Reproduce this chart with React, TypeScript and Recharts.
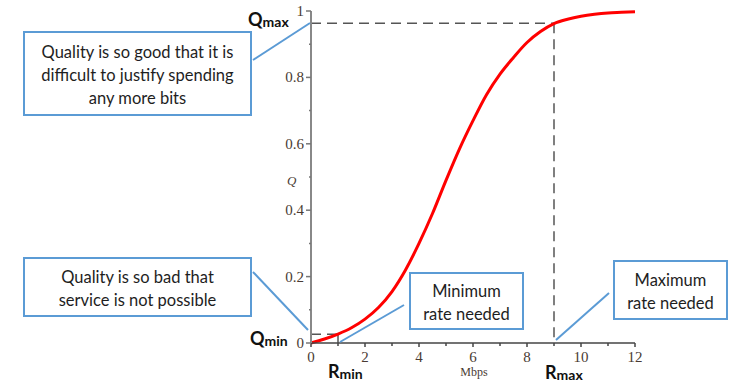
import { LineChart, Line, XAxis, YAxis, ReferenceLine } from 'recharts'

// rate in Mbps and quality
const rates = [0, 0.5, 1, 1.5, 2, 2.5, 3, 3.5, 4, 4.5, 5, 5.5, 6, 6.5, 7, 7.5, 8, 8.5, 9, 9.5, 10, 10.5, 11, 11.5, 12]
const quality = [0, 0.012, 0.027, 0.046, 0.072, 0.107, 0.155, 0.22, 0.3, 0.39, 0.49, 0.585, 0.67, 0.748, 0.81, 0.86, 0.905, 0.938, 0.962, 0.975, 0.984, 0.99, 0.994, 0.996, 0.998]

const xTicks = [0, 1, 2, 3, 4, 5, 6, 7, 8, 9, 10, 11, 12]
const xLabels = [0, 2, 4, 6, 8, 10, 12]
const yTicks = [0, 0.1, 0.2, 0.3, 0.4, 0.5, 0.6, 0.7, 0.8, 0.9, 1]
const yLabels = [0, 0.2, 0.4, 0.6, 0.8, 1]

const rMin = 1
const rMax = 9
const qMin = 0.026
const qMax = 0.963

const data = rates.map((r, i) => ({ rate: r, q: quality[i] }))

const tickColor = '#4a3b33'
const dashColor = '#555'
const boxBlue = '#5b9bd5'
const serif = "'Liberation Serif', 'DejaVu Serif', serif"

function XTick(props: any) {
  const { x, y, payload } = props
  const major = xLabels.includes(payload.value)
  return (
    <g>
      <line x1={x} y1={y} x2={x} y2={y + (major ? 4 : 3)} stroke="#444" strokeWidth={1.5} />
      {major && (
        <text x={x} y={y + 19} textAnchor="middle" style={{ fontFamily: serif, fontSize: 15 }} fill={tickColor}>
          {payload.value}
        </text>
      )}
    </g>
  )
}

function YTick(props: any) {
  const { x, y, payload } = props
  const major = yLabels.includes(payload.value)
  return (
    <g>
      <line x1={x} y1={y} x2={x - (major ? 5 : 2)} y2={y} stroke="#777" strokeWidth={1.5} />
      {major && (
        <text x={x - 7} y={y + 5} textAnchor="end" style={{ fontFamily: serif, fontSize: 15 }} fill={tickColor}>
          {payload.value}
        </text>
      )}
    </g>
  )
}

const boxStyle = (left: number, top: number, width: number, height: number): React.CSSProperties => ({
  position: 'absolute',
  left,
  top,
  width,
  height,
  boxSizing: 'border-box',
  border: `2px solid ${boxBlue}`,
  background: '#fff',
  display: 'flex',
  alignItems: 'center',
  justifyContent: 'center',
  textAlign: 'center',
  fontFamily: 'Lato, sans-serif',
  fontSize: 16.5,
  lineHeight: '23px',
  color: '#1e1e1e',
  paddingTop: 3,
  whiteSpace: 'nowrap',
})

const SubLabel = ({ x, y, main, sub }: { x: number; y: number; main: string; sub: string }) => (
  <text x={x} y={y} style={{ fontFamily: 'Lato, sans-serif', fontWeight: 700 }} fill="#111">
    <tspan fontSize={18}>{main}</tspan>
    <tspan fontSize={14} dy={1}>{sub}</tspan>
  </text>
)

export default function App() {
  return (
    <div style={{ position: 'absolute', left: 0, top: 0, width: 735, height: 382, background: '#fff' }}>
      <LineChart width={735} height={382} data={data} margin={{ top: 11, right: 100, left: 271, bottom: 9 }}>
        <XAxis
          dataKey="rate"
          type="number"
          domain={[0, 12]}
          ticks={xTicks}
          interval={0}
          height={30}
          tickSize={0}
          tickMargin={0}
          tickLine={false}
          axisLine={{ stroke: '#444', strokeWidth: 1.5 }}
          tick={<XTick />}
        />
        <YAxis
          type="number"
          domain={[0, 1]}
          ticks={yTicks}
          interval={0}
          width={40}
          tickSize={0}
          tickMargin={0}
          tickLine={false}
          axisLine={{ stroke: '#888', strokeWidth: 2 }}
          tick={<YTick />}
        />
        <ReferenceLine segment={[{ x: 0, y: qMax }, { x: rMax, y: qMax }]} stroke={dashColor} strokeWidth={1.5} strokeDasharray="10 6" />
        <ReferenceLine segment={[{ x: rMax, y: qMax }, { x: rMax, y: 0 }]} stroke={dashColor} strokeWidth={1.5} strokeDasharray="10 6" />
        <ReferenceLine segment={[{ x: 0, y: qMin }, { x: rMin, y: qMin }]} stroke={dashColor} strokeWidth={1.5} strokeDasharray="10 6" />
        <ReferenceLine segment={[{ x: rMin, y: qMin }, { x: rMin, y: 0 }]} stroke={dashColor} strokeWidth={1.5} />
        <Line type="monotone" dataKey="q" stroke="#ff0000" strokeWidth={3} dot={false} isAnimationActive={false} />
      </LineChart>

      <div style={boxStyle(23, 31, 229, 85)}>
        <div>Quality is so good that it is<br />difficult to justify spending<br />any more bits</div>
      </div>
      <div style={boxStyle(23, 257, 229, 60)}>
        <div>Quality is so bad that<br />service is not possible</div>
      </div>
      <div style={boxStyle(409, 272, 115, 58)}>
        <div>Minimum<br />rate needed</div>
      </div>
      <div style={boxStyle(613, 260, 115, 60)}>
        <div>Maximum<br />rate needed</div>
      </div>

      <svg width={735} height={382} style={{ position: 'absolute', left: 0, top: 0, pointerEvents: 'none' }}>
        <line x1={253} y1={60} x2={310} y2={23} stroke={boxBlue} strokeWidth={2} />
        <line x1={253} y1={272} x2={308} y2={330} stroke={boxBlue} strokeWidth={2} />
        <line x1={340} y1={342} x2={404} y2={305} stroke={boxBlue} strokeWidth={2} />
        <line x1={556} y1={340} x2={609} y2={293} stroke={boxBlue} strokeWidth={2} />
        <text x={287} y={185} style={{ fontFamily: serif, fontStyle: 'italic', fontSize: 13 }} fill={tickColor}>Q</text>
        <text x={474} y={376} textAnchor="middle" style={{ fontFamily: serif, fontSize: 12 }} fill={tickColor}>Mbps</text>
        <SubLabel x={248} y={26} main="Q" sub="max" />
        <SubLabel x={250} y={345} main="Q" sub="min" />
        <SubLabel x={328} y={378} main="R" sub="min" />
        <SubLabel x={545} y={379} main="R" sub="max" />
      </svg>
    </div>
  )
}
